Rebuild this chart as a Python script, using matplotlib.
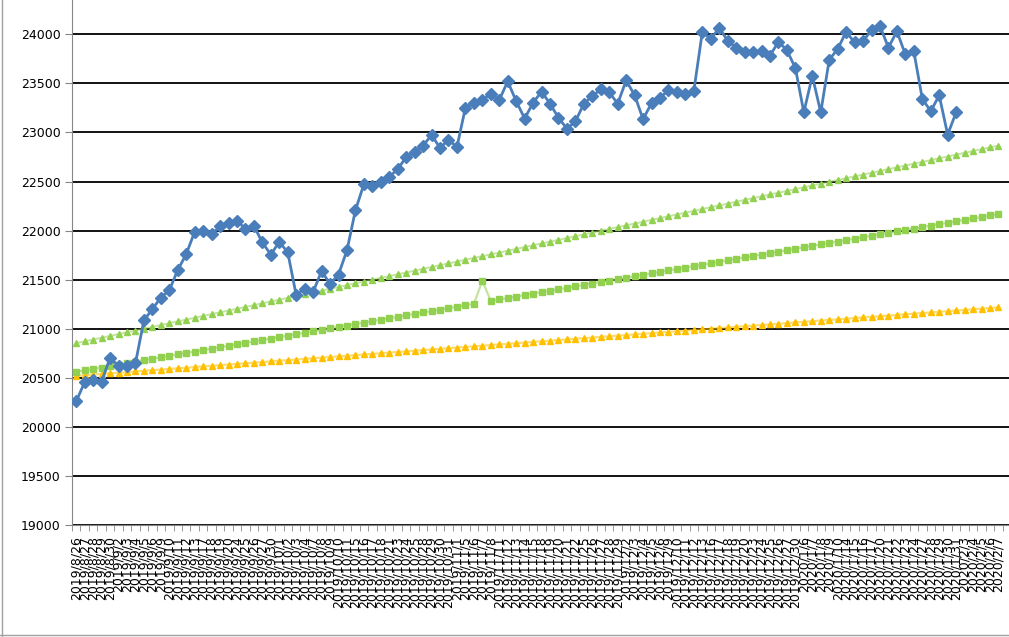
import numpy as np
import matplotlib.pyplot as plt
from matplotlib.lines import Line2D

# trading days shown on the category axis
dates = (
    ["2019/8/26", "2019/8/27", "2019/8/28", "2019/8/29", "2019/8/30"]
    + ["2019/9/2", "2019/9/3", "2019/9/4", "2019/9/5", "2019/9/6",
       "2019/9/9", "2019/9/10", "2019/9/11", "2019/9/12", "2019/9/13",
       "2019/9/17", "2019/9/18", "2019/9/19", "2019/9/20",
       "2019/9/24", "2019/9/25", "2019/9/26", "2019/9/27", "2019/9/30"]
    + ["2019/10/1", "2019/10/2", "2019/10/3", "2019/10/4",
       "2019/10/7", "2019/10/8", "2019/10/9", "2019/10/10", "2019/10/11",
       "2019/10/15", "2019/10/16", "2019/10/17", "2019/10/18",
       "2019/10/21", "2019/10/23", "2019/10/24", "2019/10/25",
       "2019/10/28", "2019/10/29", "2019/10/30", "2019/10/31"]
    + ["2019/11/1", "2019/11/5", "2019/11/6", "2019/11/7", "2019/11/8",
       "2019/11/11", "2019/11/12", "2019/11/13", "2019/11/14", "2019/11/15",
       "2019/11/18", "2019/11/19", "2019/11/20", "2019/11/21", "2019/11/22",
       "2019/11/25", "2019/11/26", "2019/11/27", "2019/11/28", "2019/11/29"]
    + ["2019/12/2", "2019/12/3", "2019/12/4", "2019/12/5", "2019/12/6",
       "2019/12/9", "2019/12/10", "2019/12/11", "2019/12/12", "2019/12/13",
       "2019/12/16", "2019/12/17", "2019/12/18", "2019/12/19", "2019/12/20",
       "2019/12/23", "2019/12/24", "2019/12/25", "2019/12/26", "2019/12/27",
       "2019/12/30"]
    + ["2020/1/6", "2020/1/7", "2020/1/8", "2020/1/9", "2020/1/10",
       "2020/1/14", "2020/1/15", "2020/1/16", "2020/1/17",
       "2020/1/20", "2020/1/21", "2020/1/22", "2020/1/23", "2020/1/24",
       "2020/1/27", "2020/1/28", "2020/1/29", "2020/1/30", "2020/1/31"]
    + ["2020/2/3", "2020/2/4", "2020/2/5", "2020/2/6", "2020/2/7"]
)

# closing values (blue), stops at 2020/1/31
close = [
    20261, 20456, 20479, 20461, 20704,
    20620, 20625, 20649, 21086, 21200, 21318, 21392, 21598, 21760, 21988,
    22001, 21961, 22044, 22079, 22099, 22020, 22048, 21879, 21756,
    21885, 21779, 21342, 21410, 21375, 21588, 21456, 21552, 21799,
    22207, 22473, 22452, 22493, 22549, 22625, 22751, 22800, 22867, 22974, 22843, 22927,
    22851, 23252, 23304, 23330, 23392, 23332, 23520, 23320, 23142, 23303,
    23417, 23293, 23149, 23039, 23113, 23293, 23373, 23438, 23409, 23294,
    23530, 23380, 23135, 23300, 23354, 23431, 23410, 23392, 23425, 24023,
    23952, 24066, 23934, 23865, 23817, 23821, 23831, 23783, 23925, 23838, 23657,
    23205, 23576, 23205, 23740, 23851, 24025, 23917, 23933, 24041,
    24084, 23865, 24031, 23795, 23827, 23344, 23216, 23379, 22978, 23205,
]

upper = [
    20853, 20871, 20890, 20908, 20927, 20945, 20964, 20982, 21001, 21019,
    21038, 21056, 21075, 21093, 21112, 21130, 21149, 21167, 21185, 21204,
    21222, 21241, 21259, 21278, 21296, 21315, 21333, 21352, 21370, 21389,
    21407, 21426, 21444, 21463, 21481, 21499, 21518, 21536, 21555, 21573,
    21592, 21610, 21629, 21647, 21666, 21684, 21703, 21721, 21740, 21758,
    21776, 21795, 21813, 21832, 21850, 21869, 21887, 21906, 21924, 21943,
    21961, 21980, 21998, 22017, 22035, 22054, 22072, 22090, 22109, 22127,
    22146, 22164, 22183, 22201, 22220, 22238, 22257, 22275, 22294, 22312,
    22331, 22349, 22368, 22386, 22404, 22423, 22441, 22460, 22478, 22497,
    22515, 22534, 22552, 22571, 22589, 22608, 22626, 22645, 22663, 22682,
    22700, 22718, 22737, 22755, 22774, 22792, 22811, 22829, 22848, 22866,
]

middle = [
    20561, 20576, 20590, 20605, 20620, 20635, 20650, 20664, 20679, 20694,
    20708, 20723, 20738, 20753, 20768, 20782, 20797, 20812, 20826, 20841,
    20856, 20871, 20886, 20900, 20915, 20930, 20944, 20959, 20974, 20989,
    21004, 21018, 21033, 21048, 21062, 21077, 21092, 21107, 21122, 21136,
    21151, 21166, 21180, 21195, 21210, 21225, 21240, 21254, 21487, 21284,
    21298, 21313, 21328, 21343, 21358, 21372, 21387, 21402, 21416, 21431,
    21446, 21461, 21476, 21490, 21505, 21520, 21534, 21549, 21564, 21579,
    21594, 21608, 21623, 21638, 21652, 21667, 21682, 21697, 21712, 21726,
    21741, 21756, 21770, 21785, 21800, 21815, 21830, 21844, 21859, 21874,
    21888, 21903, 21918, 21933, 21948, 21962, 21977, 21992, 22006, 22021,
    22036, 22051, 22066, 22080, 22095, 22110, 22124, 22139, 22154, 22169,
]

lower = [
    20520, 20526, 20533, 20539, 20546, 20552, 20558, 20565, 20571, 20578,
    20584, 20590, 20597, 20603, 20610, 20616, 20622, 20629, 20635, 20642,
    20648, 20654, 20661, 20667, 20674, 20680, 20686, 20693, 20699, 20706,
    20712, 20718, 20725, 20731, 20738, 20744, 20750, 20757, 20763, 20770,
    20776, 20782, 20789, 20795, 20802, 20808, 20814, 20821, 20827, 20834,
    20840, 20846, 20853, 20859, 20866, 20872, 20878, 20885, 20891, 20898,
    20904, 20910, 20917, 20923, 20930, 20936, 20942, 20949, 20955, 20962,
    20968, 20974, 20981, 20987, 20994, 21000, 21006, 21013, 21019, 21026,
    21032, 21038, 21045, 21051, 21058, 21064, 21070, 21077, 21083, 21090,
    21096, 21102, 21109, 21115, 21122, 21128, 21134, 21141, 21147, 21154,
    21160, 21166, 21173, 21179, 21186, 21192, 21198, 21205, 21211, 21218,
]

y_ticks = list(range(19000, 24001, 500))

W, H = 1009, 637
fig = plt.figure(figsize=(W / 100, H / 100), dpi=100)
ax = fig.add_axes([72 / W, (H - 525) / H, 1 - 72 / W, 525 / H])

x = np.arange(len(dates))
xc = np.arange(len(close))

ax.plot(x, lower, color="#FFC000", lw=1.6, alpha=0.55, zorder=3)
ax.plot(x, lower, ls="none", marker="^", ms=4.5, color="#FFC000", zorder=4)
ax.plot(x, middle, color="#92D050", lw=1.6, alpha=0.55, zorder=3)
ax.plot(x, middle, ls="none", marker="s", ms=4.2, color="#92D050", zorder=4)
ax.plot(x, upper, color="#92D050", lw=1.4, alpha=0.55, zorder=3)
ax.plot(x, upper, ls="none", marker="^", ms=4.2, color="#92D050", zorder=4)
ax.plot(xc, close, color="#4A7EBB", lw=2, marker="D", ms=6,
        markerfacecolor="#4A7EBB", markeredgecolor="#4A7EBB", zorder=5)

ax.set_xlim(-0.5, 110.25)
ax.set_ylim(19000, 24350)

ax.set_yticks(y_ticks)
ax.set_yticklabels([str(v) for v in y_ticks], fontsize=9)
ax.tick_params(axis="y", direction="out", length=5, color="#868686", pad=3)
ax.yaxis.grid(True, color="black", lw=1.3)
ax.set_axisbelow(True)

# labels at category centres, tick marks between categories
ax.set_xticks(x)
ax.set_xticklabels(dates, rotation=90, fontsize=9)
ax.set_xticks(np.arange(len(dates) + 1) - 0.5, minor=True)
ax.tick_params(axis="x", which="major", length=0, pad=8)
ax.tick_params(axis="x", which="minor", direction="out", length=4, color="#868686")

for s in ["top", "right"]:
    ax.spines[s].set_visible(False)
for s in ["left", "bottom"]:
    ax.spines[s].set_color("#868686")

# outer border pieces visible at the left and bottom edge
fig.add_artist(Line2D([2 / W, 2 / W], [0, 1], color="#A0A0A0", lw=1))
fig.add_artist(Line2D([0, 1], [2 / H, 2 / H], color="#A0A0A0", lw=1))

fig.savefig("out.png", dpi=100)
